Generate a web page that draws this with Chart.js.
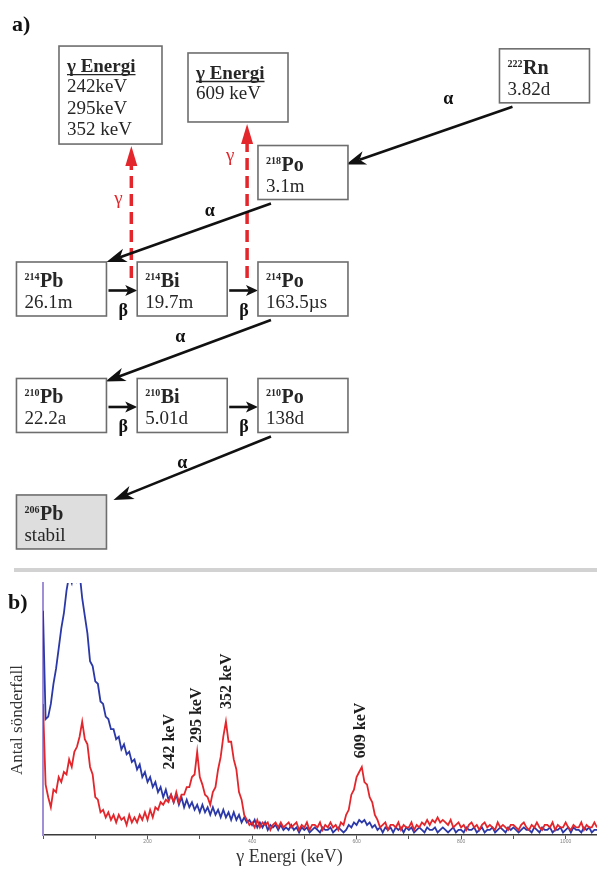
<!DOCTYPE html>
<html>
<head>
<meta charset="utf-8">
<script src="https://cdn.jsdelivr.net/npm/chart.js@4.4.1/dist/chart.umd.min.js"></script>
<style>
  html, body { margin: 0; padding: 0; background: #fff; }
  #wrap { position: relative; width: 597px; height: 869px; }
  #chain_box { position: absolute; left: 0; top: 0; width: 597px; height: 566px; }
  #spectrum_box { position: absolute; left: 0; top: 566px; width: 597px; height: 303px; }
</style>
</head>
<body>
<div id="wrap">
  <div id="chain_box"><canvas id="chain"></canvas></div>
  <div id="spectrum_box"><canvas id="spectrum"></canvas></div>
</div>
<script>
// ---- a) decay chain of Rn-222 ----
const massNumbers = [222, 218, 214, 214, 214, 210, 210, 210, 206];
const elements = ['Rn', 'Po', 'Pb', 'Bi', 'Po', 'Pb', 'Bi', 'Po', 'Pb'];
const halfLives = ['3.82d', '3.1m', '26.1m', '19.7m', '163.5µs', '22.2a', '5.01d', '138d', 'stabil'];
const decayFrom = [0, 1, 2, 3, 4, 5, 6, 7];
const decayTo = [1, 2, 3, 4, 5, 6, 7, 8];
const decayModes = ['α', 'α', 'β', 'β', 'α', 'β', 'β', 'α'];
const gammaTitle = 'γ Energi';
const gammaLines = [['242keV', '295keV', '352 keV'], ['609 keV']];
const gammaDecays = [2, 3];

// ---- b) gamma spectrum, 5 keV per channel ----
const channelKeV = 5;
const redCounts = [
  52, 20, 15, 11, 18, 17, 23, 21, 25, 24, 30, 27, 33, 35, 39, 45, 38, 36, 27, 24,
  15, 14, 9, 10, 7, 9, 6, 8, 5, 8, 6, 7, 4, 8, 5, 7, 5, 8, 6, 9,
  6, 10, 7, 11, 10, 13, 12, 14, 13, 16, 13, 17, 13, 16, 16, 19, 19, 23, 24, 33,
  23, 20, 16, 15, 12, 17, 19, 26, 31, 39, 45, 37, 37, 30, 26, 17, 14, 8, 6, 4,
  5, 3, 6, 3, 5, 4, 5, 2, 4, 5, 3, 5, 3, 4, 5, 3, 4, 5, 2, 4,
  3, 5, 2, 4, 4, 3, 5, 2, 4, 3, 5, 3, 4, 2, 5, 4, 8, 10, 16, 18,
  23, 25, 27, 21, 20, 15, 13, 8, 6, 3, 4, 5, 2, 4, 4, 3, 5, 2, 4, 3,
  3, 5, 2, 4, 3, 5, 4, 6, 4, 6, 5, 7, 5, 6, 5, 4, 6, 3, 4, 5,
  3, 4, 2, 4, 5, 3, 4, 2, 4, 5, 3, 4, 3, 2, 5, 3, 4, 3, 2, 4,
  4, 3, 2, 4, 5, 3, 2, 4, 3, 5, 3, 2, 4, 4, 3, 5, 2, 4, 3, 3,
  5, 3, 2, 4, 3, 3, 5, 2, 4, 3, 3, 5, 3
];
const blueCounts = [
  89, 46, 47, 52, 60, 66, 74, 82, 88, 97, 103, 100, 106, 101, 104, 94, 87, 80, 69, 67,
  61, 60, 53, 52, 47, 46, 42, 42, 38, 39, 34, 36, 32, 33, 29, 30, 26, 28, 23, 25,
  21, 23, 19, 21, 17, 19, 15, 18, 14, 16, 13, 16, 12, 15, 11, 14, 11, 13, 10, 12,
  9, 12, 9, 11, 8, 11, 8, 10, 7, 10, 7, 9, 6, 9, 6, 8, 5, 7, 5, 6,
  4, 6, 3, 5, 3, 5, 2, 4, 3, 4, 2, 4, 2, 3, 2, 4, 2, 3, 1, 3,
  2, 3, 1, 2, 3, 2, 1, 3, 2, 2, 3, 1, 2, 3, 2, 1, 2, 4, 3, 5,
  4, 6, 5, 6, 4, 5, 3, 4, 2, 3, 1, 3, 2, 3, 1, 3, 2, 3, 1, 3,
  2, 3, 1, 2, 3, 2, 1, 3, 2, 2, 3, 1, 2, 3, 2, 1, 2, 3, 1, 2,
  2, 1, 3, 2, 2, 3, 1, 2, 3, 1, 2, 2, 3, 1, 2, 3, 2, 1, 3, 2,
  3, 2, 1, 2, 3, 2, 2, 1, 3, 2, 1, 3, 2, 2, 3, 1, 2, 2, 3, 1,
  2, 3, 1, 3, 2, 2, 1, 3, 2, 3, 1, 2, 2
];
const peakEnergies = [242, 295, 352, 609];
const peakNames = ['242 keV', '295 keV', '352 keV', '609 keV'];

// ---- layout / style ----
const SERIF = '"Liberation Serif", "Times New Roman", serif';
const RED = '#e3262b';
const INK = '#262626';
const BOX_LINE = '#6e6e6e';
const BOX_W = 90, BOX_H = 54;

// grid cells (column, row) for the boxes of the chain
const chainLayout = {
  col: [4, 2, 0, 1, 2, 0, 1, 2, 0],
  row: [0.17, 1, 2, 2, 2, 3, 3, 3, 4],
  gammaCol: [0.406, 1.462],
  gammaRow: [0.335, 0.27],
  gammaBox: [[103, 98], [100, 69]],
  gammaShift: [9.5, 4.5],
  gammaLabel: [[-13, 53], [-17, 32]],
  alphaEnd: { 0: [-2, 19], 1: [0, 0], 4: [-1, 3], 7: [7, 5] },
  alphaLabel: { 0: [19, -36], 1: [21, -21], 4: [-8, -13], 7: [-10, -5] }
};
const peakLabelLevels = [37, 47.5, 61, 41.5];

function arrowHead(ctx, x1, y1, x2, y2, len, half, notch, color) {
  const a = Math.atan2(y2 - y1, x2 - x1);
  const c = Math.cos(a), s = Math.sin(a);
  ctx.beginPath();
  ctx.moveTo(x2, y2);
  ctx.lineTo(x2 - len * c + half * s, y2 - len * s - half * c);
  ctx.lineTo(x2 - len * notch * c, y2 - len * notch * s);
  ctx.lineTo(x2 - len * c - half * s, y2 - len * s + half * c);
  ctx.closePath();
  ctx.fillStyle = color;
  ctx.fill();
}

function arrow(ctx, x1, y1, x2, y2, len, half, notch, color, width) {
  const a = Math.atan2(y2 - y1, x2 - x1);
  ctx.strokeStyle = color;
  ctx.lineWidth = width;
  ctx.beginPath();
  ctx.moveTo(x1, y1);
  ctx.lineTo(x2 - len * notch * Math.cos(a), y2 - len * notch * Math.sin(a));
  ctx.stroke();
  arrowHead(ctx, x1, y1, x2, y2, len, half, notch, color);
}

const chainPlugin = {
  id: 'chainDrawing',
  afterDatasetsDraw(chart) {
    const ctx = chart.ctx;
    const nodes = chart.getDatasetMeta(0).data;
    const gNodes = chart.getDatasetMeta(1).data;
    const rect = (el, w, h) => ({ left: el.x - w / 2, right: el.x + w / 2, top: el.y - h / 2, bottom: el.y + h / 2, x: el.x, y: el.y });
    const boxes = nodes.map(el => rect(el, BOX_W, BOX_H));
    ctx.save();
    ctx.lineJoin = 'miter';

    ctx.fillStyle = '#111';
    ctx.font = `bold 22px ${SERIF}`;
    ctx.textAlign = 'left';
    ctx.textBaseline = 'alphabetic';
    ctx.fillText('a)', 12, 31);

    // gamma boxes with dashed arrows
    gammaLines.forEach((lines, g) => {
      const d = gammaDecays[g];
      const [w, h] = chainLayout.gammaBox[g];
      const b = rect(gNodes[g], w, h);
      const p = boxes[decayFrom[d]], q = boxes[decayTo[d]];
      const gx = (p.right + q.left) / 2 + chainLayout.gammaShift[g];
      const tail = q.top + 16;
      const tip = b.bottom + 2;
      ctx.strokeStyle = RED;
      ctx.lineWidth = 3.5;
      ctx.setLineDash([12, 6]);
      ctx.beginPath();
      ctx.moveTo(gx, tail);
      ctx.lineTo(gx, tip + 16);
      ctx.stroke();
      ctx.setLineDash([]);
      arrowHead(ctx, gx, tail, gx, tip, 20, 6, 1, RED);
      ctx.fillStyle = RED;
      ctx.font = `19px ${SERIF}`;
      ctx.textAlign = 'center';
      ctx.textBaseline = 'middle';
      const [lx, ly] = chainLayout.gammaLabel[g];
      ctx.fillText('γ', gx + lx, tip + ly);

      ctx.fillStyle = '#fff';
      ctx.fillRect(b.left, b.top, w, h);
      ctx.strokeStyle = BOX_LINE;
      ctx.lineWidth = 1.6;
      ctx.strokeRect(b.left, b.top, w, h);
      ctx.fillStyle = INK;
      ctx.textAlign = 'left';
      ctx.textBaseline = 'alphabetic';
      ctx.font = `bold 19px ${SERIF}`;
      const tx = b.left + 8;
      ctx.fillText(gammaTitle, tx, b.top + 26);
      const tw = ctx.measureText(gammaTitle).width;
      ctx.strokeStyle = INK;
      ctx.lineWidth = 1.3;
      ctx.beginPath();
      ctx.moveTo(tx, b.top + 28.5);
      ctx.lineTo(tx + tw, b.top + 28.5);
      ctx.stroke();
      ctx.font = `19px ${SERIF}`;
      lines.forEach((t, k) => ctx.fillText(t, tx, b.top + 46 + k * 21.5));
    });

    // decay arrows
    decayModes.forEach((mode, d) => {
      const p = boxes[decayFrom[d]], q = boxes[decayTo[d]];
      ctx.font = `bold 18px ${SERIF}`;
      ctx.textAlign = 'center';
      ctx.textBaseline = 'middle';
      if (mode === 'α') {
        const sx = p.left + 13, sy = p.bottom + 4;
        const [ox, oy] = chainLayout.alphaEnd[d];
        const ex = q.right + ox, ey = q.top + oy;
        arrow(ctx, sx, sy, ex, ey, 20, 7, 0.72, '#111', 2.6);
        const [lx, ly] = chainLayout.alphaLabel[d];
        ctx.fillStyle = '#111';
        ctx.fillText(mode, (sx + ex) / 2 + lx, (sy + ey) / 2 + ly);
      } else {
        const y = p.y + 1.5;
        arrow(ctx, p.right + 2, y, q.left, y, 12, 5.5, 0.75, '#111', 2.6);
        ctx.fillStyle = '#111';
        ctx.fillText(mode, (p.right + q.left) / 2 + 1.5, p.y + 22);
      }
    });

    // nuclide boxes
    boxes.forEach((b, i) => {
      ctx.fillStyle = halfLives[i] === 'stabil' ? '#dedede' : '#fff';
      ctx.fillRect(b.left, b.top, BOX_W, BOX_H);
      ctx.strokeStyle = BOX_LINE;
      ctx.lineWidth = 1.6;
      ctx.strokeRect(b.left, b.top, BOX_W, BOX_H);
      ctx.fillStyle = INK;
      ctx.textAlign = 'left';
      ctx.textBaseline = 'alphabetic';
      ctx.font = `bold 10px ${SERIF}`;
      const sup = String(massNumbers[i]);
      ctx.fillText(sup, b.left + 8, b.top + 18);
      const sw = ctx.measureText(sup).width;
      ctx.font = `bold 20px ${SERIF}`;
      ctx.fillText(elements[i], b.left + 8 + sw + 0.5, b.top + 25);
      ctx.font = `19px ${SERIF}`;
      ctx.fillText(halfLives[i], b.left + 8, b.top + 46);
    });
    ctx.restore();
  }
};

const chainCanvas = document.getElementById('chain').getContext('2d');
const chainChart = new Chart(chainCanvas, {
  type: 'scatter',
  data: {
    datasets: [
      {
        label: 'Nuklider',
        data: massNumbers.map((m, i) => ({ x: chainLayout.col[i], y: chainLayout.row[i] })),
        pointRadius: 0
      },
      {
        label: gammaTitle,
        data: gammaLines.map((l, g) => ({ x: chainLayout.gammaCol[g], y: chainLayout.gammaRow[g] })),
        pointRadius: 0
      }
    ]
  },
  options: {
    responsive: true,
    maintainAspectRatio: false,
    animation: false,
    events: [],
    layout: { padding: 0 },
    plugins: { legend: { display: false }, tooltip: { enabled: false } },
    scales: {
      x: { type: 'linear', display: false, min: -0.509, max: 4.435 },
      y: { type: 'linear', display: false, reverse: true, min: -0.481, max: 4.378 }
    }
  },
  plugins: [chainPlugin]
});

const spectrumPlugin = {
  id: 'spectrumDecor',
  afterDatasetsDraw(chart) {
    const { ctx, scales: { x, y }, chartArea } = chart;
    ctx.save();
    ctx.fillStyle = '#d2d2d2';
    ctx.fillRect(14, 2, 583, 4);

    ctx.fillStyle = '#111';
    ctx.font = `bold 22px ${SERIF}`;
    ctx.textAlign = 'left';
    ctx.textBaseline = 'alphabetic';
    ctx.fillText('b)', 8, 43);

    ctx.font = `bold 16px ${SERIF}`;
    ctx.fillStyle = '#1e1e1e';
    ctx.textAlign = 'center';
    ctx.textBaseline = 'middle';
    peakEnergies.forEach((e, i) => {
      ctx.save();
      ctx.translate(x.getPixelForValue(e), y.getPixelForValue(peakLabelLevels[i]));
      ctx.rotate(-Math.PI / 2);
      ctx.fillText(peakNames[i], 0, 0);
      ctx.restore();
    });

    ctx.fillStyle = '#333';
    ctx.font = `18px ${SERIF}`;
    ctx.fillText('γ Energi (keV)', chartArea.left + (chartArea.right - chartArea.left) * 0.445, 291);
    ctx.save();
    ctx.translate(18, 154);
    ctx.rotate(-Math.PI / 2);
    ctx.font = `17px ${SERIF}`;
    ctx.fillText('Antal sönderfall', 0, 0);
    ctx.restore();
    ctx.restore();
  }
};

const spectrumCanvas = document.getElementById('spectrum').getContext('2d');
const spectrumChart = new Chart(spectrumCanvas, {
  type: 'line',
  data: {
    datasets: [
      {
        label: 'Mätning 1',
        data: redCounts.map((v, i) => ({ x: i * channelKeV, y: v })),
        borderColor: RED,
        borderWidth: 1.8,
        pointRadius: 0,
        fill: false,
        tension: 0
      },
      {
        label: 'Mätning 2',
        data: blueCounts.map((v, i) => ({ x: i * channelKeV, y: v })),
        borderColor: '#2a38a8',
        borderWidth: 1.8,
        pointRadius: 0,
        fill: false,
        tension: 0
      }
    ]
  },
  options: {
    responsive: true,
    maintainAspectRatio: false,
    animation: false,
    events: [],
    layout: { padding: { top: 17, left: 0, right: 0, bottom: 0 } },
    plugins: { legend: { display: false }, tooltip: { enabled: false } },
    scales: {
      x: {
        type: 'linear',
        min: 0,
        max: 1060,
        afterFit: s => { s.height = 34; },
        grid: { display: true, drawOnChartArea: false, drawTicks: true, tickLength: 4, color: '#555', lineWidth: 1 },
        border: { display: true, color: '#3a3a3a', width: 1.5 },
        ticks: {
          stepSize: 100,
          autoSkip: false,
          maxRotation: 0,
          includeBounds: false,
          padding: 0,
          color: '#808080',
          font: { size: 5 },
          callback: v => (v > 0 && v % 200 === 0 ? String(v) : '')
        }
      },
      y: {
        min: 0,
        max: 100,
        afterFit: s => { s.width = 43; },
        grid: { display: false },
        ticks: { display: false },
        border: { display: true, color: '#a08fd6', width: 2 }
      }
    }
  },
  plugins: [spectrumPlugin]
});
</script>
</body>
</html>
